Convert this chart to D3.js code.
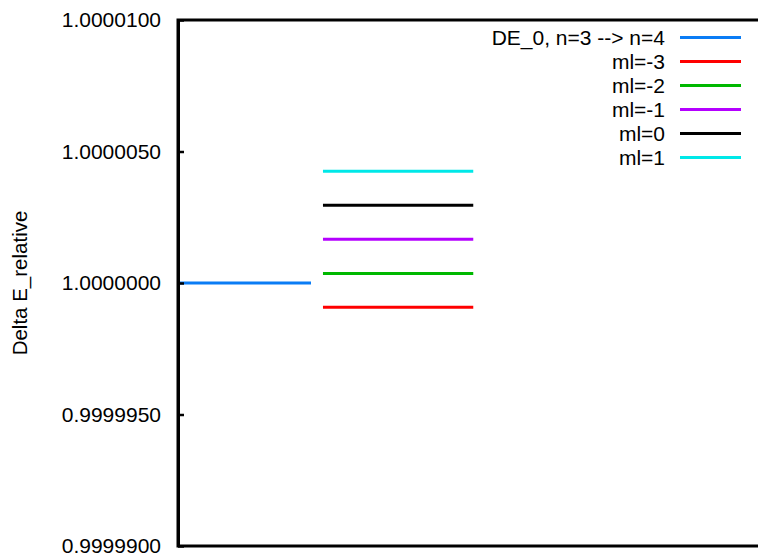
<!DOCTYPE html>
<html>
<head>
<meta charset="utf-8">
<script src="https://cdn.jsdelivr.net/npm/d3@7"></script>
<style>
  body { margin: 0; background: #fff; }
  svg { display: block; font-family: "Liberation Sans", Arial, sans-serif; }
</style>
</head>
<body>
<svg id="chart" width="758" height="558"></svg>
<script>
// energy levels
const levelNames = ["DE_0, n=3 --> n=4", "ml=-3", "ml=-2", "ml=-1", "ml=0", "ml=1"];
const levelValues = [1.0, 0.99999908, 1.00000036, 1.000001665, 1.00000296, 1.00000425];
const levelStart = [0, 1.09, 1.09, 1.09, 1.09, 1.09];
const levelEnd = [1, 2.22, 2.22, 2.22, 2.22, 2.22];
const levelColors = ["#0a7cf5", "#ff0000", "#00b800", "#b400ff", "#000000", "#00e8e8"];
const yTicks = [0.99999, 0.999995, 1.0, 1.000005, 1.00001];

const margin = { left: 178, top: 20, bottom: 12 };
const svg = d3.select("#chart");
const H = 558;

var x = d3.scaleLinear().domain([0, 5]).range([margin.left, margin.left + 5 * 133]);
var y = d3.scaleLinear().domain([0.99999, 1.00001]).range([H - margin.bottom, margin.top]);

// level lines
svg.append("g")
  .selectAll("line")
  .data(levelValues)
  .join("line")
  .attr("x1", (d, i) => x(levelStart[i]))
  .attr("x2", (d, i) => x(levelEnd[i]))
  .attr("y1", d => y(d))
  .attr("y2", d => y(d))
  .attr("stroke", (d, i) => levelColors[i])
  .attr("stroke-width", 3);

// frame (right side runs off the picture)
svg.append("rect")
  .attr("x", margin.left)
  .attr("y", margin.top)
  .attr("width", 700)
  .attr("height", y(0.99999) - margin.top)
  .attr("fill", "none")
  .attr("stroke", "#000")
  .attr("stroke-width", 3);

var yAxis = svg.append("g")
  .attr("transform", "translate(" + margin.left + ",0)")
  .call(d3.axisLeft(y).tickValues(yTicks).tickFormat(d3.format(".7f"))
    .tickSizeInner(-6).tickSizeOuter(0).tickPadding(17));
yAxis.select(".domain").attr("stroke-width", 3);
yAxis.selectAll(".tick line").attr("stroke-width", 2.5);
yAxis.selectAll("text")
  .attr("font-size", 21)
  .attr("font-family", "Liberation Sans, Arial, sans-serif")
  .attr("fill", "#000");

svg.append("text")
  .attr("transform", "translate(27," + y(1.0) + ") rotate(-90)")
  .attr("text-anchor", "middle")
  .attr("font-size", 20.5)
  .text("Delta E_relative");

// legend
var legend = svg.append("g")
  .selectAll("g")
  .data(levelNames)
  .join("g")
  .attr("transform", (d, i) => "translate(0," + (37.5 + i * 24) + ")");

legend.append("text")
  .attr("x", 665)
  .attr("dy", "0.35em")
  .attr("text-anchor", "end")
  .attr("font-size", 21)
  .text(d => d);

legend.append("line")
  .attr("x1", 680)
  .attr("x2", 741)
  .attr("stroke", (d, i) => levelColors[i])
  .attr("stroke-width", 3);
</script>
</body>
</html>
